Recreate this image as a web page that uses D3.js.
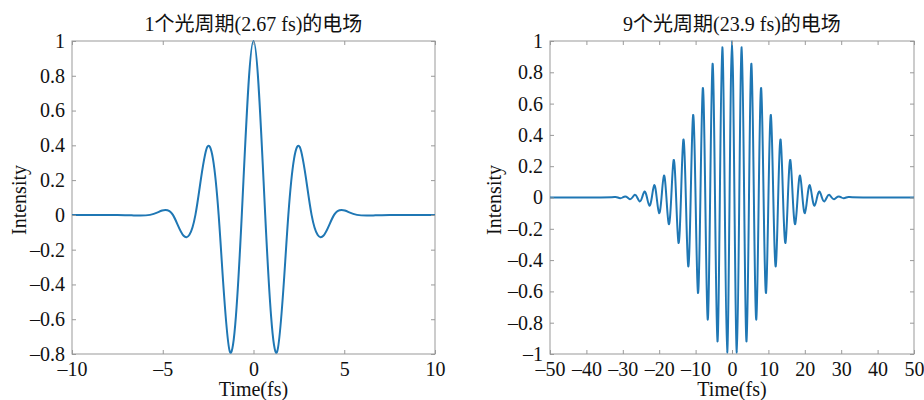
<!DOCTYPE html>
<html>
<head>
<meta charset="utf-8">
<script src="https://cdn.jsdelivr.net/npm/d3@7"></script>
<style>
  body { margin: 0; background: #fff; }
  text { font-family: 'Liberation Serif', 'Noto Sans CJK SC', serif; fill: #111; }
</style>
</head>
<body>
<div id="chart"></div>
<script>
const width = 924;
const height = 400;
const fontSize = 20;
const lineColor = '#1f77b4';
const boxColor = '#999';

// titles, tick values
const titles = ['1个光周期(2.67 fs)的电场', '9个光周期(23.9 fs)的电场'];
const xTicksShort = [-10, -5, 0, 5, 10];
const yTicksShort = [-0.8, -0.6, -0.4, -0.2, 0, 0.2, 0.4, 0.6, 0.8, 1];
const xTicksLong = [-50, -40, -30, -20, -10, 0, 10, 20, 30, 40, 50];
const yTicksLong = [-1, -0.8, -0.6, -0.4, -0.2, 0, 0.2, 0.4, 0.6, 0.8, 1];

// 1 cycle pulse: extrema and zero crossings [t(fs), E]
const pulseShort = [
  [-10, 0], [-7.5, 0], [-6.6, -0.003], [-5.7, 0], [-5.03, 0.025],
  [-4.44, 0], [-3.85, -0.12], [-3.2, 0], [-2.55, 0.39], [-1.92, 0],
  [-1.29, -0.79], [-0.645, 0], [0, 1], [0.645, 0], [1.29, -0.79],
  [1.92, 0], [2.55, 0.39], [3.2, 0], [3.85, -0.12], [4.44, 0],
  [5.03, 0.025], [5.7, 0], [6.6, -0.003], [7.5, 0], [10, 0],
];

// 9 cycle pulse: extrema and zero crossings [t(fs), E]
const pulseLong = [
  [-50, 0], [-36, 0], [-32.04, 0.003], [-31.37, 0], [-30.7, -0.0045],
  [-30.04, 0], [-29.37, 0.007], [-28.7, 0], [-28.04, -0.011], [-27.37, 0],
  [-26.7, 0.017], [-26.03, 0], [-25.37, -0.025], [-24.7, 0], [-24.03, 0.038],
  [-23.36, 0], [-22.7, -0.052], [-22.03, 0], [-21.36, 0.079], [-20.69, 0],
  [-20.03, -0.1], [-19.36, 0], [-18.69, 0.14], [-18.02, 0], [-17.36, -0.17],
  [-16.69, 0], [-16.02, 0.24], [-15.35, 0], [-14.69, -0.29], [-14.02, 0],
  [-13.35, 0.37], [-12.68, 0], [-12.02, -0.44], [-11.35, 0], [-10.68, 0.527],
  [-10.01, 0], [-9.35, -0.61], [-8.68, 0], [-8.01, 0.7], [-7.34, 0],
  [-6.68, -0.78], [-6.01, 0], [-5.34, 0.855], [-4.67, 0], [-4.0, -0.92],
  [-3.34, 0], [-2.67, 0.96], [-2.0, 0], [-1.335, -0.99], [-0.67, 0],
  [0, 1],
  [0.67, 0], [1.335, -0.99], [2.0, 0], [2.67, 0.96], [3.34, 0],
  [4.0, -0.92], [4.67, 0], [5.34, 0.855], [6.01, 0], [6.68, -0.78],
  [7.34, 0], [8.01, 0.7], [8.68, 0], [9.35, -0.61], [10.01, 0],
  [10.68, 0.527], [11.35, 0], [12.02, -0.44], [12.68, 0], [13.35, 0.37],
  [14.02, 0], [14.69, -0.29], [15.35, 0], [16.02, 0.24], [16.69, 0],
  [17.36, -0.17], [18.02, 0], [18.69, 0.14], [19.36, 0], [20.03, -0.1],
  [20.69, 0], [21.36, 0.079], [22.03, 0], [22.7, -0.052], [23.36, 0],
  [24.03, 0.038], [24.7, 0], [25.37, -0.025], [26.03, 0], [26.7, 0.017],
  [27.37, 0], [28.04, -0.011], [28.7, 0], [29.37, 0.007], [30.04, 0],
  [30.7, -0.0045], [31.37, 0], [32.04, 0.003], [36, 0], [50, 0],
];

const minusFmt = (d) => String(d).replace('-', '\u2013');

const svg = d3
  .select('#chart')
  .append('svg')
  .attr('width', width)
  .attr('height', height);

function drawPanel(opts) {
  const { left, right, top, bottom, xDomain, yDomain, xTicks, yTicks, data, title, ylabelX } = opts;

  const x = d3.scaleLinear().domain(xDomain).range([left, right]);
  const y = d3.scaleLinear().domain(yDomain).range([bottom, top]);
  const g = svg.append('g');

  // box
  g.append('rect')
    .attr('x', left)
    .attr('y', top)
    .attr('width', right - left)
    .attr('height', bottom - top)
    .attr('fill', 'none')
    .attr('stroke', boxColor)
    .attr('stroke-width', 1);

  // curve
  const clipId = 'clip' + left;
  g.append('clipPath')
    .attr('id', clipId)
    .append('rect')
    .attr('x', left)
    .attr('y', top - 2)
    .attr('width', right - left)
    .attr('height', bottom - top + 4);

  g.append('path')
    .datum(data)
    .attr('clip-path', `url(#${clipId})`)
    .attr('fill', 'none')
    .attr('stroke', lineColor)
    .attr('stroke-width', 2)
    .attr('d', d3.line()
      .x((d) => x(d[0]))
      .y((d) => y(d[1]))
      .curve(d3.curveNatural));

  // axes, ticks pointing in
  const tick = 4;
  const xBottom = d3.axisBottom(x).tickValues(xTicks).tickFormat(minusFmt)
    .tickSizeInner(-tick).tickSizeOuter(0).tickPadding(8);
  const xTop = d3.axisTop(x).tickValues(xTicks).tickFormat('')
    .tickSizeInner(-tick).tickSizeOuter(0);
  const yLeft = d3.axisLeft(y).tickValues(yTicks).tickFormat(minusFmt)
    .tickSizeInner(-tick).tickSizeOuter(0).tickPadding(7);
  const yRight = d3.axisRight(y).tickValues(yTicks).tickFormat('')
    .tickSizeInner(-tick).tickSizeOuter(0);

  const axes = [
    [xBottom, `translate(0, ${bottom})`],
    [xTop, `translate(0, ${top})`],
    [yLeft, `translate(${left}, 0)`],
    [yRight, `translate(${right}, 0)`],
  ];
  axes.forEach(([ax, tr]) => {
    const a = g.append('g').attr('transform', tr).call(ax);
    a.select('.domain').remove();
    a.selectAll('line').attr('stroke', boxColor);
    a.selectAll('text')
      .attr('font-size', fontSize)
      .attr('font-family', "'Liberation Serif', serif")
      .attr('fill', '#111');
  });

  // title
  g.append('text')
    .attr('x', (left + right) / 2)
    .attr('y', top - 10)
    .attr('text-anchor', 'middle')
    .attr('font-size', fontSize)
    .text(title);

  // x label
  g.append('text')
    .attr('x', (left + right) / 2)
    .attr('y', 396)
    .attr('text-anchor', 'middle')
    .attr('font-size', fontSize)
    .text('Time(fs)');

  // y label
  g.append('text')
    .attr('transform', 'rotate(-90)')
    .attr('x', -200)
    .attr('y', ylabelX)
    .attr('text-anchor', 'middle')
    .attr('font-size', fontSize)
    .text('Intensity');
}

drawPanel({
  left: 72, right: 435, top: 41, bottom: 354,
  xDomain: [-10, 10], yDomain: [-0.8, 1],
  xTicks: xTicksShort, yTicks: yTicksShort,
  data: pulseShort, title: titles[0], ylabelX: 26,
});

drawPanel({
  left: 550, right: 914, top: 41, bottom: 354,
  xDomain: [-50, 50], yDomain: [-1, 1],
  xTicks: xTicksLong, yTicks: yTicksLong,
  data: pulseLong, title: titles[1], ylabelX: 501,
});
</script>
</body>
</html>
